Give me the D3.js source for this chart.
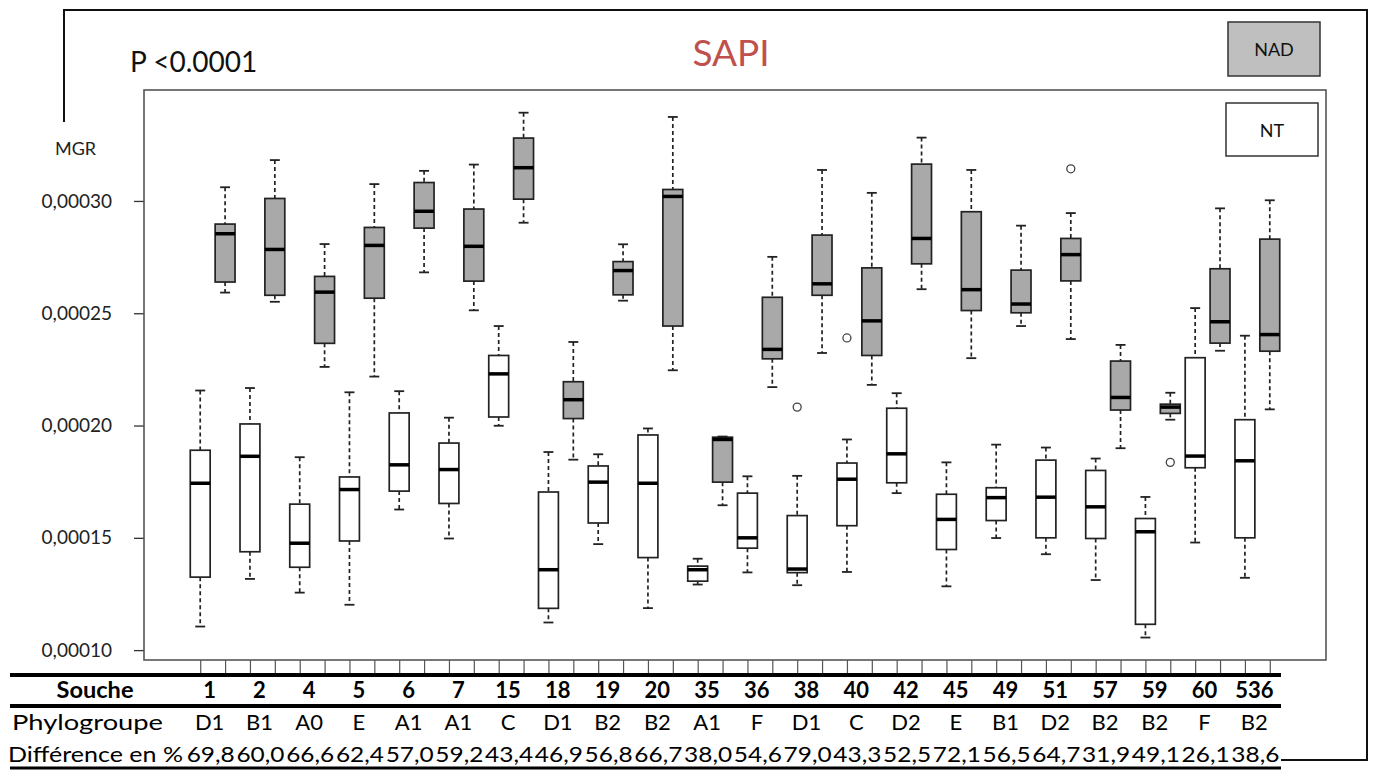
<!DOCTYPE html>
<html>
<head>
<meta charset="utf-8">
<script src="https://cdn.jsdelivr.net/npm/d3@7"></script>
<style>
  body { margin: 0; background: #fff; }
  svg { display: block; font-family: Lato, "Open Sans", sans-serif; }
</style>
</head>
<body>
<svg width="1374" height="771"></svg>
<script>
// strains and table rows
var strains = ["1","2","4","5","6","7","15","18","19","20","35","36","38","40","42","45","49","51","57","59","60","536"];
var phylo = ["D1","B1","A0","E","A1","A1","C","D1","B2","B2","A1","F","D1","C","D2","E","B1","D2","B2","B2","F","B2"];
var diff = ["69,8","60,0","66,6","62,4","57,0","59,2","43,4","46,9","56,8","66,7","38,0","54,6","79,0","43,3","52,5","72,1","56,5","64,7","31,9","49,1","26,1","38,6"];

// NT (white) box stats
var ntLo  = [0.0001105,0.0001317,0.0001256,0.0001202,0.0001626,0.0001497,0.0001999,0.0001123,0.0001472,0.0001187,0.0001292,0.0001346,0.0001289,0.0001348,0.0001699,0.0001284,0.0001499,0.0001427,0.0001312,0.0001056,0.0001479,0.0001322];
var ntQ1  = [0.0001325,0.0001438,0.0001369,0.0001486,0.0001708,0.0001653,0.0002038,0.0001186,0.0001566,0.0001412,0.0001307,0.0001454,0.0001345,0.0001554,0.0001745,0.0001448,0.0001577,0.0001500,0.0001497,0.0001115,0.0001812,0.0001500];
var ntMed = [0.0001743,0.0001863,0.0001476,0.0001715,0.0001825,0.0001804,0.0002230,0.0001358,0.0001748,0.0001743,0.0001358,0.0001500,0.0001361,0.0001761,0.0001874,0.0001582,0.0001679,0.0001681,0.0001638,0.0001527,0.0001864,0.0001843];
var ntQ3  = [0.0001890,0.0002007,0.0001650,0.0001771,0.0002056,0.0001922,0.0002312,0.0001704,0.0001820,0.0001958,0.0001374,0.0001699,0.0001599,0.0001833,0.0002077,0.0001694,0.0001723,0.0001846,0.0001800,0.0001586,0.0002302,0.0002026];
var ntHi  = [0.0002156,0.0002167,0.0001859,0.0002148,0.0002153,0.0002035,0.0002443,0.0001882,0.0001872,0.0001987,0.0001407,0.0001774,0.0001776,0.0001938,0.0002144,0.0001836,0.0001915,0.0001902,0.0001853,0.0001682,0.0002523,0.0002400];

// NAD (grey) box stats
var nadLo  = [0.0002592,0.0002551,0.0002261,0.0002218,0.0002682,0.0002513,0.0002903,0.0001848,0.0002556,0.0002246,0.0001645,0.0002171,0.0002323,0.0002181,0.0002607,0.0002300,0.0002443,0.0002385,0.0001899,0.0002026,0.0002333,0.0002072];
var nadQ1  = [0.0002639,0.0002580,0.0002366,0.0002567,0.0002879,0.0002643,0.0003008,0.0002031,0.0002582,0.0002443,0.0001748,0.0002297,0.0002580,0.0002312,0.0002720,0.0002512,0.0002502,0.0002644,0.0002069,0.0002054,0.0002367,0.0002331];
var nadMed = [0.0002854,0.0002784,0.0002594,0.0002802,0.0002954,0.0002798,0.0003148,0.0002115,0.0002690,0.0003020,0.0001938,0.0002339,0.0002631,0.0002466,0.0002833,0.0002605,0.0002541,0.0002761,0.0002125,0.0002082,0.0002462,0.0002405];
var nadQ3  = [0.0002897,0.0003011,0.0002664,0.0002882,0.0003082,0.0002964,0.0003280,0.0002195,0.0002730,0.0003051,0.0001948,0.0002571,0.0002848,0.0002702,0.0003164,0.0002952,0.0002692,0.0002833,0.0002287,0.0002095,0.0002698,0.0002830];
var nadHi  = [0.0003061,0.0003182,0.0002808,0.0003075,0.0003134,0.0003162,0.0003393,0.0002372,0.0002807,0.0003374,0.0001951,0.0002751,0.0003138,0.0003036,0.0003282,0.0003138,0.0002890,0.0002946,0.0002359,0.0002146,0.0002967,0.0003003];

// outliers: [strain index, group, value]
var outliers = [[12,"NT",0.0002082],[13,"NT",0.0002390],[17,"NAD",0.0003143],[19,"NAD",0.0001836]];

var yTicks = [0.0001, 0.00015, 0.0002, 0.00025, 0.0003];

var svg = d3.select("svg");
var pLeft = 144, pRight = 1326, pTop = 90, pBottom = 660;

var x = d3.scaleLinear().domain([-1.26, 46.26]).range([pLeft, pRight]);
var y = d3.scaleLinear().domain([0.0000956, 0.0003494]).range([pBottom, pTop]);

// build box list (NT at 2i+1, NAD at 2i+2)
var boxes = [];
strains.forEach(function(s, i) {
  boxes.push({pos: 2*i+1, grp: "NT", lo: ntLo[i], q1: ntQ1[i], med: ntMed[i], q3: ntQ3[i], hi: ntHi[i]});
  boxes.push({pos: 2*i+2, grp: "NAD", lo: nadLo[i], q1: nadQ1[i], med: nadMed[i], q3: nadQ3[i], hi: nadHi[i]});
});

var halfW = (x(1.4) - x(1));   // boxwex 0.8
var capW = halfW / 2;

// axes
var yAxis = d3.axisLeft(y).tickValues(yTicks).tickSize(10).tickPadding(22)
  .tickFormat(function(d) { return d3.format(".5f")(d).replace(".", ","); });
var gy = svg.append("g").attr("transform", "translate(" + pLeft + ",0)").call(yAxis);
gy.select(".domain").remove();
gy.selectAll(".tick line").attr("stroke", "#333").attr("stroke-width", 1.3);
gy.selectAll(".tick text").attr("fill", "#222").style("font-size", "19px").style("font-family", "Lato, sans-serif");

var xAxis = d3.axisBottom(x).tickValues(d3.range(1, 45)).tickSize(13).tickFormat("");
var gx = svg.append("g").attr("transform", "translate(0," + pBottom + ")").call(xAxis);
gx.select(".domain").remove();
gx.selectAll(".tick line").attr("stroke", "#555").attr("stroke-width", 1.2);

// plot frame
svg.append("rect").attr("x", pLeft).attr("y", pTop).attr("width", pRight - pLeft).attr("height", pBottom - pTop)
  .attr("fill", "none").attr("stroke", "#555").attr("stroke-width", 1.6);

// boxes
var g = svg.append("g");
var b = g.selectAll("g.box").data(boxes).enter().append("g").attr("class", "box");

b.append("line").attr("x1", function(d){ return x(d.pos); }).attr("x2", function(d){ return x(d.pos); })
  .attr("y1", function(d){ return y(d.hi); }).attr("y2", function(d){ return y(d.q3); })
  .attr("stroke", "#222").attr("stroke-width", 1.7).attr("stroke-dasharray", "4,3");
b.append("line").attr("x1", function(d){ return x(d.pos); }).attr("x2", function(d){ return x(d.pos); })
  .attr("y1", function(d){ return y(d.q1); }).attr("y2", function(d){ return y(d.lo); })
  .attr("stroke", "#222").attr("stroke-width", 1.7).attr("stroke-dasharray", "4,3");
b.append("line").attr("x1", function(d){ return x(d.pos) - capW; }).attr("x2", function(d){ return x(d.pos) + capW; })
  .attr("y1", function(d){ return y(d.hi); }).attr("y2", function(d){ return y(d.hi); })
  .attr("stroke", "#222").attr("stroke-width", 1.8);
b.append("line").attr("x1", function(d){ return x(d.pos) - capW; }).attr("x2", function(d){ return x(d.pos) + capW; })
  .attr("y1", function(d){ return y(d.lo); }).attr("y2", function(d){ return y(d.lo); })
  .attr("stroke", "#222").attr("stroke-width", 1.8);
b.append("rect").attr("x", function(d){ return x(d.pos) - halfW; }).attr("width", 2*halfW)
  .attr("y", function(d){ return y(d.q3); }).attr("height", function(d){ return y(d.q1) - y(d.q3); })
  .attr("fill", function(d){ return d.grp == "NAD" ? "#a9a9a9" : "#fff"; })
  .attr("stroke", "#222").attr("stroke-width", 1.7);
b.append("line").attr("x1", function(d){ return x(d.pos) - halfW; }).attr("x2", function(d){ return x(d.pos) + halfW; })
  .attr("y1", function(d){ return y(d.med); }).attr("y2", function(d){ return y(d.med); })
  .attr("stroke", "#000").attr("stroke-width", 3.5);

g.selectAll("circle.out").data(outliers).enter().append("circle").attr("class", "out")
  .attr("cx", function(d){ return x(2*d[0] + (d[1] == "NT" ? 1 : 2)); })
  .attr("cy", function(d){ return y(d[2]); })
  .attr("r", 4).attr("fill", "none").attr("stroke", "#444").attr("stroke-width", 1.3);

// titles
svg.append("text").attr("x", 731).attr("y", 66).attr("text-anchor", "middle")
  .style("font-size", "37px").attr("fill", "#c0504d").text("SAPI");
svg.append("text").attr("x", 130).attr("y", 72).style("font-size", "28px").attr("fill", "#111").text("P <0.0001");
svg.append("text").attr("x", 55).attr("y", 155).style("font-size", "18px").attr("fill", "#222").text("MGR");

// legend
svg.append("rect").attr("x", 1228).attr("y", 22).attr("width", 92).attr("height", 54)
  .attr("fill", "#bfbfbf").attr("stroke", "#333").attr("stroke-width", 1.5);
svg.append("text").attr("x", 1274).attr("y", 56).attr("text-anchor", "middle").style("font-size", "18px").attr("fill", "#111").text("NAD");
svg.append("rect").attr("x", 1226).attr("y", 103).attr("width", 92).attr("height", 53)
  .attr("fill", "#fff").attr("stroke", "#333").attr("stroke-width", 1.5);
svg.append("text").attr("x", 1272).attr("y", 137).attr("text-anchor", "middle").style("font-size", "18px").attr("fill", "#111").text("NT");

// outer frame
svg.append("path").attr("d", "M64,122 V10 H1367 V760 H1281").attr("fill", "none").attr("stroke", "#111").attr("stroke-width", 2);

// table
var tbl = svg.append("g");
tbl.append("line").attr("x1", 10).attr("x2", 1281).attr("y1", 675).attr("y2", 675).attr("stroke", "#000").attr("stroke-width", 4);
tbl.append("line").attr("x1", 10).attr("x2", 1281).attr("y1", 706).attr("y2", 706).attr("stroke", "#000").attr("stroke-width", 4);
tbl.append("line").attr("x1", 10).attr("x2", 1281).attr("y1", 768).attr("y2", 768).attr("stroke", "#000").attr("stroke-width", 3);

function colX(i) { return (x(2*i+1) + x(2*i+2)) / 2 - 3; }

tbl.append("text").attr("x", 95).attr("y", 698).attr("text-anchor", "middle").style("font-size", "22px").style("font-weight", "bold")
  .attr("textLength", 77).attr("lengthAdjust", "spacingAndGlyphs").text("Souche");
tbl.selectAll("text.s").data(strains).enter().append("text").attr("class", "s")
  .attr("x", function(d, i){ return colX(i); }).attr("y", 698).attr("text-anchor", "middle")
  .style("font-size", "22px").style("font-weight", "bold").text(function(d){ return d; });

tbl.append("text").attr("x", 12).attr("y", 730).style("font-size", "22px")
  .attr("textLength", 151).attr("lengthAdjust", "spacingAndGlyphs").text("Phylogroupe");
tbl.selectAll("text.p").data(phylo).enter().append("text").attr("class", "p")
  .attr("x", function(d, i){ return colX(i); }).attr("y", 730).attr("text-anchor", "middle")
  .style("font-size", "22px").text(function(d){ return d; });

tbl.append("text").attr("x", 8).attr("y", 762).style("font-size", "22px")
  .attr("textLength", 175).attr("lengthAdjust", "spacingAndGlyphs").text("Différence en %");
tbl.selectAll("text.d").data(diff).enter().append("text").attr("class", "d")
  .attr("x", function(d, i){ return colX(i) + 1; }).attr("y", 762).attr("text-anchor", "middle")
  .style("font-size", "22px").attr("textLength", 48).attr("lengthAdjust", "spacingAndGlyphs")
  .text(function(d){ return d; });
</script>
</body>
</html>
